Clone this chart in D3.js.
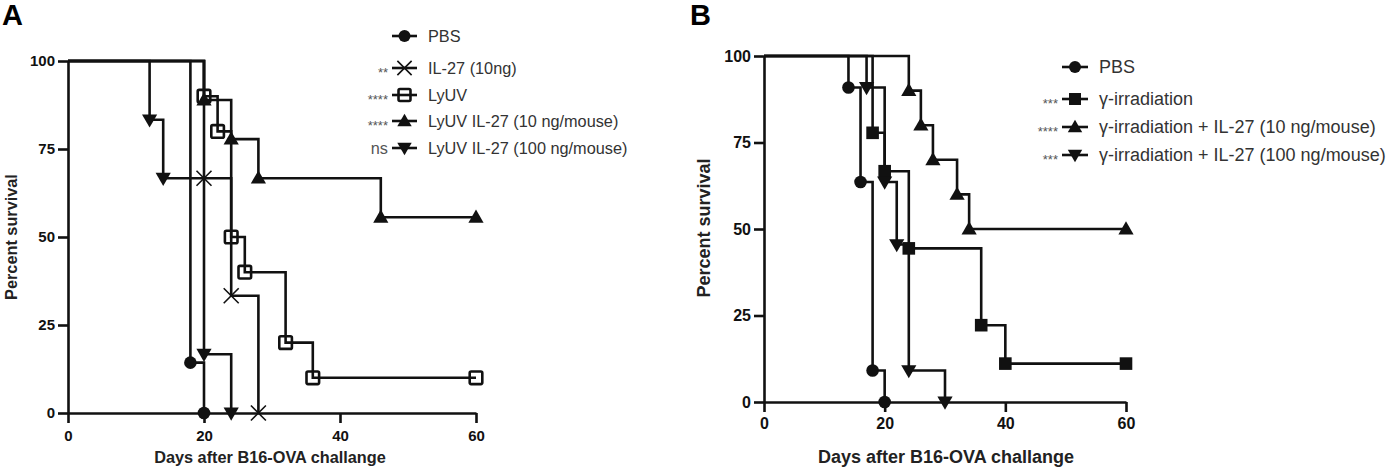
<!DOCTYPE html>
<html>
<head>
<meta charset="utf-8">
<script src="https://cdn.jsdelivr.net/npm/d3@7"></script>
<style>
  html, body { margin: 0; padding: 0; background: #fff; }
  svg { display: block; font-family: "Liberation Sans", Arial, sans-serif; }
</style>
</head>
<body>
<svg id="chart" width="1390" height="468"></svg>
<script>
// ---------- DATA ----------
const xTicks = [0, 20, 40, 60];
const yTicks = [0, 25, 50, 75, 100];
const xTitle = "Days after B16-OVA challange";
const yTitle = "Percent survival";

// Panel A
const aNames = ["PBS", "IL-27 (10ng)", "LyUV", "LyUV IL-27 (10 ng/mouse)", "LyUV IL-27 (100 ng/mouse)"];
const aSig = ["", "**", "****", "****", "ns"];
const aSymbols = ["circle", "cross", "square", "triangle", "triangleDown"];
const aPbsDays = [0, 18, 20];
const aPbsSurv = [100, 14.3, 0];
const aIl27Days = [0, 20, 24, 28];
const aIl27Surv = [100, 66.7, 33.3, 0];
const aLyuvDays = [0, 20, 22, 24, 26, 32, 36, 60];
const aLyuvSurv = [100, 90, 80, 50, 40, 20, 10, 10];
const aLyuv10Days = [0, 20, 24, 28, 46, 60];
const aLyuv10Surv = [100, 88.9, 77.8, 66.7, 55.6, 55.6];
const aLyuv100Days = [0, 12, 14, 20, 24];
const aLyuv100Surv = [100, 83.3, 66.7, 16.7, 0];

// Panel B
const bNames = ["PBS", "γ-irradiation", "γ-irradiation + IL-27 (10 ng/mouse)", "γ-irradiation + IL-27 (100 ng/mouse)"];
const bSig = ["", "***", "****", "***"];
const bSymbols = ["circle", "squareFilled", "triangle", "triangleDown"];
const bPbsDays = [0, 14, 16, 18, 20];
const bPbsSurv = [100, 90.9, 63.6, 9.1, 0];
const bIrrDays = [0, 18, 20, 24, 36, 40, 60];
const bIrrSurv = [100, 77.8, 66.7, 44.4, 22.2, 11.1, 11.1];
const bIrr10Days = [0, 24, 26, 28, 32, 34, 60];
const bIrr10Surv = [100, 90, 80, 70, 60, 50, 50];
const bIrr100Days = [0, 17, 20, 22, 24, 30];
const bIrr100Surv = [100, 90.9, 63.6, 45.5, 9.1, 0];

const toPts = (d, s) => d.map((v, i) => ({ x: v, y: s[i] }));
const aSeries = [
  toPts(aPbsDays, aPbsSurv), toPts(aIl27Days, aIl27Surv), toPts(aLyuvDays, aLyuvSurv),
  toPts(aLyuv10Days, aLyuv10Surv), toPts(aLyuv100Days, aLyuv100Surv)
];
const bSeries = [
  toPts(bPbsDays, bPbsSurv), toPts(bIrrDays, bIrrSurv),
  toPts(bIrr10Days, bIrr10Surv), toPts(bIrr100Days, bIrr100Surv)
];

// ---------- DRAW ----------
const INK = "#111";
const svg = d3.select("#chart");

function drawSymbol(g, type, cx, cy, size) {
  const s = size || 1;
  if (type === "circle") {
    g.append("circle").attr("cx", cx).attr("cy", cy).attr("r", 6.3 * s).attr("fill", INK);
  } else if (type === "square") {
    g.append("rect").attr("x", cx - 6.3 * s).attr("y", cy - 6.3 * s).attr("width", 12.6 * s).attr("height", 12.6 * s)
      .attr("rx", 1.5).attr("fill", "none").attr("stroke", INK).attr("stroke-width", 2.6);
  } else if (type === "squareFilled") {
    g.append("rect").attr("x", cx - 6.3 * s).attr("y", cy - 6.3 * s).attr("width", 12.6 * s).attr("height", 12.6 * s)
      .attr("fill", INK);
  } else if (type === "triangle") {
    g.append("path").attr("d", d3.symbol(d3.symbolTriangle, 100 * s * s)()).attr("transform", `translate(${cx},${cy + 1})`)
      .attr("fill", INK);
  } else if (type === "triangleDown") {
    g.append("path").attr("d", d3.symbol(d3.symbolTriangle, 100 * s * s)()).attr("transform", `translate(${cx},${cy - 1}) rotate(180)`)
      .attr("fill", INK);
  } else if (type === "cross") {
    const r = 7.5 * s;
    g.append("path").attr("d", `M${cx - r},${cy - r}L${cx + r},${cy + r}M${cx - r},${cy + r}L${cx + r},${cy - r}`)
      .attr("stroke", INK).attr("stroke-width", 1.6).attr("fill", "none");
  }
}

function panel(opt) {
  const x = d3.scaleLinear().domain([0, 60]).range(opt.xr);
  const y = d3.scaleLinear().domain([0, 100]).range(opt.yr);
  const g = svg.append("g");

  // axes
  const ax = g.append("g").attr("transform", `translate(0,${opt.yr[0]})`)
    .call(d3.axisBottom(x).tickValues(xTicks).tickSize(10).tickPadding(opt.xPad).tickSizeOuter(0));
  const ay = g.append("g").attr("transform", `translate(${opt.xr[0]},0)`)
    .call(d3.axisLeft(y).tickValues(yTicks).tickSize(10).tickPadding(3).tickSizeOuter(0));
  [ax, ay].forEach(a => {
    a.select(".domain").attr("stroke", INK).attr("stroke-width", 2.6);
    a.selectAll(".tick line").attr("stroke", INK).attr("stroke-width", 2.6);
    a.selectAll(".tick text").attr("fill", INK).attr("font-size", opt.tickSize).attr("font-weight", "bold")
      .attr("font-family", "Liberation Sans, Arial, sans-serif");
  });

  // step lines
  const line = d3.line().x(d => x(d.x)).y(d => y(d.y)).curve(d3.curveStepAfter);
  opt.series.forEach((pts, i) => {
    g.append("path").datum(pts).attr("d", line).attr("fill", "none")
      .attr("stroke", INK).attr("stroke-width", 2.6).attr("stroke-linejoin", "miter");
  });
  // markers
  opt.series.forEach((pts, i) => {
    const mg = g.append("g");
    pts.slice(1).forEach(p => drawSymbol(mg, opt.symbols[i], x(p.x), y(p.y)));
  });

  // titles
  g.append("text").attr("x", opt.xTitle[0]).attr("y", opt.xTitle[1]).attr("text-anchor", "middle")
    .attr("font-size", opt.xTitleSize).attr("font-weight", "bold").attr("fill", "#222").text(xTitle);
  g.append("text").attr("transform", `translate(${opt.yTitle[0]},${opt.yTitle[1]}) rotate(-90)`)
    .attr("text-anchor", "middle").attr("dominant-baseline", "central")
    .attr("font-size", opt.yTitleSize).attr("font-weight", "bold").attr("fill", "#222").text(yTitle);
  g.append("text").attr("x", opt.letter[0]).attr("y", opt.letter[1]).attr("font-size", 29)
    .attr("font-weight", "bold").attr("fill", "#000").text(opt.letterText);

  // legend
  const lg = g.append("g");
  opt.names.forEach((name, i) => {
    const ly = opt.legendY[i];
    lg.append("line").attr("x1", opt.legX[0]).attr("x2", opt.legX[1]).attr("y1", ly).attr("y2", ly)
      .attr("stroke", INK).attr("stroke-width", 2.6);
    drawSymbol(lg, opt.symbols[i], (opt.legX[0] + opt.legX[1]) / 2, ly, 0.95);
    lg.append("text").attr("x", opt.legX[1] + 11).attr("y", ly).attr("dominant-baseline", "central")
      .attr("font-size", opt.legSize).attr("fill", "#333").text(name);
    if (opt.sig[i]) {
      const isNs = opt.sig[i] === "ns";
      lg.append("text").attr("x", opt.legX[0] - 4).attr("y", isNs ? ly : ly + 4).attr("text-anchor", "end")
        .attr("dominant-baseline", "central").attr("font-size", isNs ? opt.legSize : 13)
        .attr("fill", "#555").text(opt.sig[i]);
    }
  });
}

panel({
  xr: [68, 476], yr: [413, 61], xPad: 7, tickSize: 15, series: aSeries, symbols: aSymbols,
  names: aNames, sig: aSig, legendY: [36, 68, 95, 121, 148], legX: [392, 417], legSize: 16.3,
  xTitle: [270, 463], xTitleSize: 16.3, yTitle: [11, 237], yTitleSize: 16.3,
  letter: [2, 25], letterText: "A"
});

panel({
  xr: [764, 1126], yr: [402, 56], xPad: 6, tickSize: 16, series: bSeries, symbols: bSymbols,
  names: bNames, sig: bSig, legendY: [67, 99, 127, 155], legX: [1062, 1088], legSize: 18,
  xTitle: [946, 463], xTitleSize: 18, yTitle: [704, 228], yTitleSize: 18,
  letter: [690, 25], letterText: "B"
});
</script>
</body>
</html>
